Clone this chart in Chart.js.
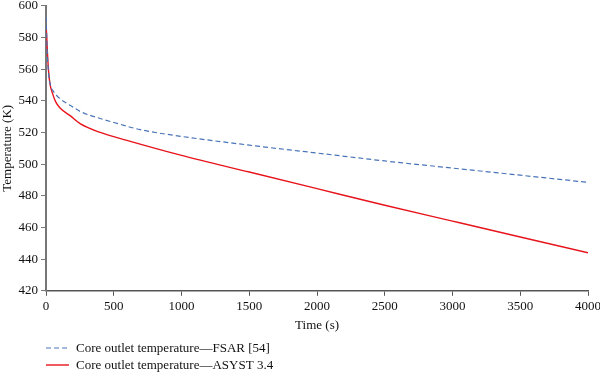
<!DOCTYPE html>
<html><head><meta charset="utf-8">
<script src="https://cdn.jsdelivr.net/npm/chart.js@4.4.0/dist/chart.umd.min.js"></script>
<style>html,body{margin:0;padding:0;background:#fff;overflow:hidden;}#wrap{width:600px;height:372px;position:relative;overflow:hidden;}#c{position:absolute;left:0;top:-5px;}</style>
</head><body><div id="wrap"><canvas id="c" width="604" height="377"></canvas></div>
<script>
const fsarTime = [0, 5, 10, 20, 35, 54, 100, 150, 200, 251, 400, 500, 694, 1000, 1500, 2000, 2500, 3000, 3500, 4000];
const fsarTemp = [593, 580, 568, 556, 549, 546, 541.5, 538.5, 536, 533.3, 528.8, 526.3, 521.8, 517.5, 512, 507, 502, 497.5, 493, 488.5];
const asystTime = [0, 5, 10, 20, 30, 46, 70, 103, 180, 251, 400, 596, 1000, 1500, 2000, 2500, 3000, 3500, 4000];
const asystTemp = [587, 580, 570, 557, 550, 545, 539.5, 535.4, 530.5, 525.6, 520, 515, 505.5, 495, 484.5, 474, 464, 454, 444];
const seriesLabels = ['Core outlet temperature\u2014FSAR [54]', 'Core outlet temperature\u2014ASYST 3.4'];
const xTitle = 'Time (s)';
const yTitle = 'Temperature (K)';

const toXY = (xs, ys) => xs.map((x, i) => ({x: x, y: ys[i]}));
const FONT = '"Liberation Serif", "DejaVu Serif", serif';

const legendPlugin = {
  id: 'customLegend',
  afterDraw(chart) {
    const ctx = chart.ctx;
    ctx.save();
    chart.data.datasets.forEach((ds, i) => {
      const y = 353 + i * 17;
      ctx.beginPath();
      ctx.strokeStyle = ds.borderColor;
      ctx.lineWidth = ds.borderWidth;
      ctx.setLineDash(ds.borderDash || []);
      ctx.moveTo(46, y);
      ctx.lineTo(69, y);
      ctx.stroke();
      ctx.setLineDash([]);
      ctx.fillStyle = '#111';
      ctx.font = '13px ' + FONT;
      ctx.textBaseline = 'middle';
      ctx.fillText(ds.label, 76, y + 1);
    });
    ctx.restore();
  }
};

new Chart(document.getElementById('c'), {
  type: 'line',
  data: {
    datasets: [
      {label: seriesLabels[0], data: toXY(fsarTime, fsarTemp), borderColor: '#4a74b8', borderWidth: 1.2, borderDash: [5, 3], pointRadius: 0, cubicInterpolationMode: 'monotone', fill: false},
      {label: seriesLabels[1], data: toXY(asystTime, asystTemp), borderColor: '#e8141c', borderWidth: 1.4, pointRadius: 0, cubicInterpolationMode: 'monotone', fill: false}
    ]
  },
  options: {
    responsive: false,
    animation: false,
    layout: {padding: {top: 3, right: 0, bottom: 39, left: 0}},
    plugins: {legend: {display: false}, tooltip: {enabled: false}},
    scales: {
      x: {
        type: 'linear', min: 0, max: 4000,
        ticks: {stepSize: 500, color: '#111', font: {family: FONT, size: 13}, padding: 3, maxRotation: 0, callback: v => String(v)},
        grid: {drawOnChartArea: false, drawTicks: true, tickLength: 5, color: '#555'},
        border: {display: true, color: '#555', width: 1.5},
        title: {display: true, text: xTitle, color: '#111', font: {family: FONT, size: 13}, padding: {top: 0, bottom: 0}}
      },
      y: {
        min: 420, max: 600,
        ticks: {stepSize: 20, color: '#111', font: {family: FONT, size: 13}, padding: 3, callback: v => String(v)},
        grid: {drawOnChartArea: false, drawTicks: true, tickLength: 5, color: '#777'},
        border: {display: true, color: '#777', width: 2},
        title: {display: true, text: yTitle, color: '#111', font: {family: FONT, size: 13}, padding: {top: 0, bottom: 0}}
      }
    }
  },
  plugins: [legendPlugin]
});
</script></body></html>
